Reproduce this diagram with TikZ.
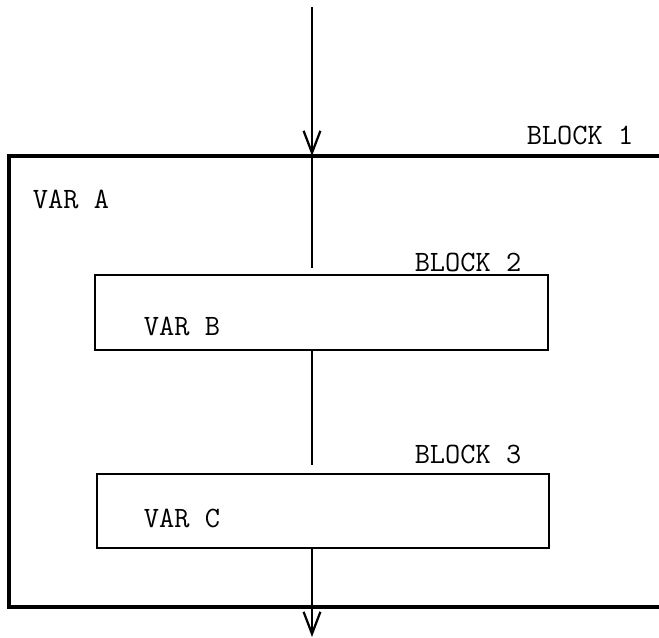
\documentclass[tikz,border=0pt]{standalone}
\usepackage{xcolor}
\usepackage{tikz}
\usetikzlibrary{arrows.meta, positioning}

\begin{document}
\begin{tikzpicture}[x=0.025cm, y=-0.025cm, >={Straight Barb[length=0.55cm, width=0.42cm]},
    outerline/.style={line width=2.6pt, black},
    blockbox/.style={draw, line width=1.4pt, inner sep=0pt, minimum width=11.3cm},
    flowline/.style={line width=1.6pt, black},
    lbl/.style={font=\fontsize{21}{24}\selectfont\ttfamily, inner sep=0pt}]
    \useasboundingbox (0,0) rectangle (659,638);

    % block 1, open on the right
    \coordinate (b1tl) at (9,156);
    \coordinate (b1bl) at (9,607);
    \draw[outerline] (659,156) -- (b1tl) -- (b1bl) -- (659,607);
    \node[lbl] (blk1) at (580,135) {BLOCK 1};
    \node[lbl] (vara) at (71,199) {VAR A};

    % block 2 and block 3
    \node[blockbox, minimum height=1.875cm] (b2) at (321.5,312.5) {};
    \node[lbl] (blk2) at (468,262) {BLOCK 2};
    \node[lbl] (varb) at (182,326) {VAR B};

    \node[blockbox, minimum height=1.85cm] (b3) at (323,511) {};
    \node[lbl] (blk3) at (468,454) {BLOCK 3};
    \node[lbl] (varc) at (182,518) {VAR C};

    % flow through the blocks
    \coordinate (in) at (312,7);
    \coordinate (b1top) at (312,156);
    \coordinate (b2in) at (312,268);
    \coordinate (b3in) at (312,465);
    \coordinate (out) at (312,637);
    \draw[flowline, ->] (in) -- (b1top);
    \draw[flowline] (b1top) -- (b2in);
    \draw[flowline] (b1top |- b2.south) -- (b3in);
    \draw[flowline, ->] (b1top |- b3.south) -- (out);
\end{tikzpicture}
\end{document}
